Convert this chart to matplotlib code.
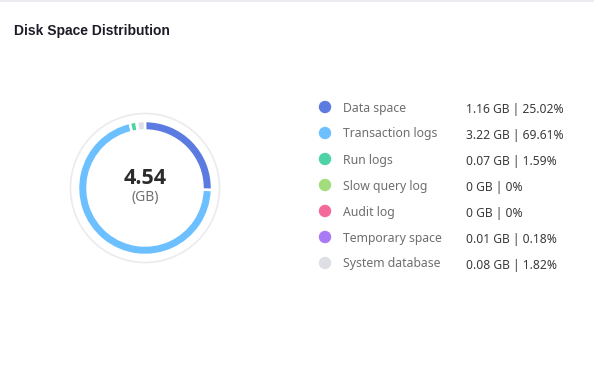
import matplotlib
matplotlib.use("Agg")
import matplotlib.pyplot as plt
from matplotlib.patches import Circle

categories = ["Data space", "Transaction logs", "Run logs", "Slow query log",
              "Audit log", "Temporary space", "System database"]
sizes_gb = [1.16, 3.22, 0.07, 0, 0, 0.01, 0.08]
percents = [25.02, 69.61, 1.59, 0, 0, 0.18, 1.82]
value_labels = ["1.16 GB | 25.02%", "3.22 GB | 69.61%", "0.07 GB | 1.59%",
                "0 GB | 0%", "0 GB | 0%", "0.01 GB | 0.18%", "0.08 GB | 1.82%"]
colors = ["#5b7be0", "#6cc0ff", "#4ed3a6", "#a3dc7c", "#f3699a", "#a97af6", "#dedfe5"]
total_label = "4.54"
unit_label = "(GB)"
title = "Disk Space Distribution"

W, H = 594, 392
fig = plt.figure(figsize=(W / 100, H / 100), dpi=100)
fig.patch.set_facecolor("white")

# overlay axes in pixel coordinates (y down)
ov = fig.add_axes([0, 0, 1, 1])
ov.set_xlim(0, W)
ov.set_ylim(H, 0)
ov.axis("off")

ov.plot([0, W], [0.7, 0.7], color="#ebecf0", lw=1.5)
ov.text(14, 31, title, fontsize=10, fontweight="bold",
        color="#1c1c28", family="Liberation Sans", va="center", ha="left")

# donut axes: 160x160 px centered on (145,188)
cx, cy, S = 145, 188, 160
ax = fig.add_axes([(cx - S / 2) / W, 1 - (cy + S / 2) / H, S / W, S / H])
ax.set_aspect("equal")
ax.axis("off")

ax.add_patch(Circle((0, 0), 74.5, fill=False, edgecolor="#ebebef", lw=1.2))
nz = [(v, c) for v, c in zip(percents, colors) if v > 0]
ax.pie([v for v, _ in nz], colors=[c for _, c in nz], radius=67,
       startangle=90, counterclock=False,
       wedgeprops=dict(width=9.5, edgecolor="white", linewidth=1.8))
ax.set_xlim(-S / 2, S / 2)
ax.set_ylim(-S / 2, S / 2)

ax.text(0, 9, total_label, ha="center", va="center", fontsize=15.5,
        fontweight="bold", color="#2b2b2b", family="Open Sans")
ax.text(0, -9, unit_label, ha="center", va="center", fontsize=10,
        color="#707070", family="Noto Sans")

# legend
y0, dy = 107, 26
for i, (cat, val, col) in enumerate(zip(categories, value_labels, colors)):
    y = y0 + i * dy
    ov.add_patch(Circle((325, y), 5.5, color=col))
    ov.text(343, y + 1, cat, fontsize=8.8, color="#6e6e6e",
            family="Noto Sans", va="center", ha="left")
    ov.text(466, y + 2, val, fontsize=8.7, color="#3a3a3a",
            family="Noto Sans", va="center", ha="left")

fig.savefig("out.png", dpi=100, facecolor="white")
